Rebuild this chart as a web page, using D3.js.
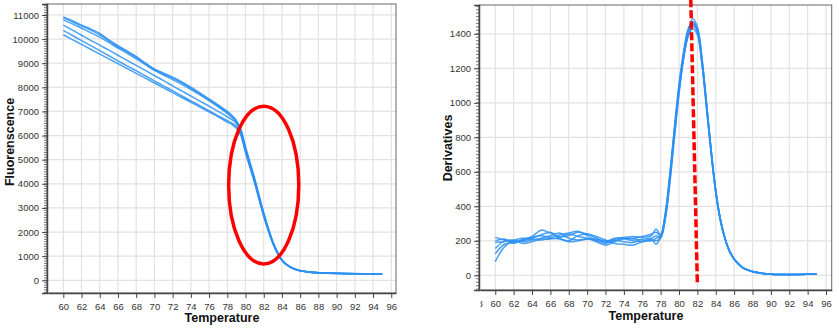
<!DOCTYPE html>
<html>
<head>
<meta charset="utf-8">
<script src="https://cdn.jsdelivr.net/npm/d3@7"></script>
<style>
  body { margin: 0; background: #fff; }
  svg { display: block; font-family: "Liberation Sans", Arial, sans-serif; }
  .tick text { fill: #333; font-size: 9.5px; }
  .title { font-weight: bold; font-size: 12.5px; fill: #111; }
</style>
</head>
<body>
<div id="container"></div>
<script>
/* CONSTANTS AND GLOBALS */
const width = 839,
  height = 329;

const lineColor = "#2b90f2";
const markColor = "#ff0000";

/* DATA */
// melt curve (left panel) - temperature grid
const meltTemps = [60, 61, 62, 63, 64, 65, 66, 67, 68, 69, 70, 71, 72, 73, 74, 75, 76, 77, 78,
  78.5, 79, 79.5, 80, 81, 82, 83, 84, 85, 86, 87, 88, 89, 90, 91, 92, 93, 94, 95];

const melt1 = [10920, 10760, 10580, 10420, 10240, 9970, 9730, 9510, 9280, 9010, 8760, 8590, 8420, 8230, 8010, 7770, 7520, 7270, 7000,
  6840, 6620, 6250, 5540, 4230, 2800, 1610, 850, 545, 402, 346, 316, 301, 291, 283, 277, 271, 266, 259];
const melt2 = [10880, 10720, 10540, 10370, 10180, 9930, 9690, 9470, 9240, 8980, 8720, 8550, 8380, 8190, 7970, 7730, 7480, 7230, 6960,
  6800, 6600, 6220, 5500, 4190, 2770, 1590, 838, 538, 399, 344, 314, 299, 289, 281, 275, 269, 264, 257];
const melt3 = [10800, 10630, 10450, 10270, 10080, 9860, 9630, 9410, 9180, 8940, 8700, 8510, 8320, 8120, 7910, 7690, 7450, 7190, 6920,
  6760, 6560, 6170, 5450, 4150, 2740, 1575, 832, 534, 397, 342, 312, 297, 287, 279, 273, 267, 262, 255];
const melt4 = [10580, 10370, 10160, 9950, 9750, 9540, 9330, 9120, 8910, 8700, 8490, 8280, 8060, 7850, 7640, 7430, 7220, 7000, 6780,
  6660, 6500, 6120, 5400, 4110, 2710, 1560, 826, 531, 395, 340, 310, 295, 285, 277, 271, 265, 260, 253];
const melt5 = [10360, 10150, 9940, 9730, 9520, 9310, 9100, 8890, 8690, 8480, 8270, 8060, 7860, 7650, 7440, 7240, 7030, 6820, 6620,
  6520, 6380, 6060, 5350, 4070, 2680, 1545, 820, 528, 393, 338, 308, 293, 283, 275, 269, 263, 258, 251];
const melt6 = [10180, 9980, 9780, 9580, 9380, 9180, 8980, 8780, 8580, 8380, 8180, 7980, 7780, 7580, 7380, 7180, 6980, 6780, 6560,
  6460, 6300, 5990, 5300, 4030, 2650, 1530, 815, 525, 391, 336, 306, 291, 281, 273, 267, 261, 256, 249];

// derivative curve (right panel) - temperature grid
const derivTemps = [60, 61, 62, 63, 64, 65, 66, 67, 68, 69, 70, 71, 72, 73, 74, 75, 76, 77,
  77.5, 78, 78.5, 79, 79.5, 80, 80.5, 81, 81.5, 82, 82.5, 83, 83.5, 84, 84.5, 85, 85.5, 86, 86.5, 87,
  88, 89, 90, 91, 92, 93, 94, 95];

const deriv1 = [220, 205, 195, 205, 225, 262, 245, 225, 230, 250, 240, 215, 190, 200, 215, 210, 205, 200,
  215, 225, 340, 560, 830, 1080, 1280, 1420, 1488, 1440, 1250, 990, 720, 490, 325, 215, 140, 95, 65, 42,
  22, 12, 7, 5, 5, 5, 6, 8];
const deriv2 = [200, 210, 185, 210, 220, 230, 220, 235, 245, 255, 230, 200, 185, 210, 220, 225, 220, 230,
  268, 235, 360, 590, 860, 1110, 1300, 1430, 1470, 1410, 1220, 960, 700, 475, 315, 210, 138, 93, 63, 41,
  21, 11, 6, 5, 4, 5, 6, 7];
const deriv3 = [190, 195, 200, 195, 205, 215, 230, 245, 215, 205, 210, 205, 195, 215, 215, 215, 225, 240,
  250, 230, 350, 575, 840, 1090, 1280, 1410, 1458, 1420, 1240, 985, 715, 485, 322, 213, 140, 94, 64, 42,
  22, 12, 7, 5, 5, 5, 6, 7];
const deriv4 = [155, 200, 205, 215, 210, 205, 215, 210, 195, 200, 210, 210, 200, 205, 195, 190, 210, 215,
  230, 220, 330, 545, 810, 1060, 1255, 1390, 1445, 1415, 1245, 990, 722, 492, 328, 216, 141, 95, 65, 43,
  22, 12, 7, 5, 5, 5, 6, 8];
const deriv5 = [125, 180, 190, 200, 215, 235, 250, 215, 200, 230, 240, 225, 205, 185, 180, 175, 195, 210,
  180, 225, 345, 570, 835, 1080, 1265, 1385, 1430, 1395, 1225, 975, 710, 482, 320, 212, 139, 94, 64, 42,
  22, 12, 7, 5, 5, 5, 6, 7];
const deriv6 = [80, 165, 200, 185, 195, 210, 210, 220, 240, 225, 215, 195, 175, 195, 210, 200, 195, 205,
  200, 215, 320, 530, 795, 1050, 1260, 1405, 1465, 1435, 1260, 1000, 728, 495, 330, 218, 142, 96, 66, 43,
  22, 12, 7, 5, 5, 5, 6, 8];

// tick labels
const meltXTicks = [60, 62, 64, 66, 68, 70, 72, 74, 76, 78, 80, 82, 84, 86, 88, 90, 92, 94, 96];
const derivXTicks = [58, 60, 62, 64, 66, 68, 70, 72, 74, 76, 78, 80, 82, 84, 86, 88, 90, 92, 94, 96];
const meltYTicks = [0, 1000, 2000, 3000, 4000, 5000, 6000, 7000, 8000, 9000, 10000, 11000];
const derivYTicks = [0, 200, 400, 600, 800, 1000, 1200, 1400];

// annotations: melt region ellipse (center temp, center value, half widths) and Tm line
const ellipseCenter = [82, 3950];
const ellipseRadius = [3.85, 3270];
const tmLine = [[81.28, 1600], [82.0, -55]];

/* SVG */
const svg = d3.select("#container")
  .append("svg")
  .attr("width", width)
  .attr("height", height);

// draws one panel, returns its scales
function drawPanel(opt) {
  const xScale = d3.scaleLinear().domain(opt.xDomain).range([opt.left, opt.right]);
  const yScale = d3.scaleLinear().domain(opt.yDomain).range([opt.bottom, opt.top]);
  const g = svg.append("g");

  // grid
  g.append("g")
    .selectAll("line.vg")
    .data(opt.xTicks.filter(d => xScale(d) > opt.left))
    .join("line")
    .attr("x1", d => xScale(d)).attr("x2", d => xScale(d))
    .attr("y1", opt.top).attr("y2", opt.bottom)
    .attr("stroke", "#e2e2e2").attr("stroke-width", 1.2);
  g.append("g")
    .selectAll("line.hg")
    .data(opt.yTicks)
    .join("line")
    .attr("x1", opt.left).attr("x2", opt.right)
    .attr("y1", d => yScale(d)).attr("y2", d => yScale(d))
    .attr("stroke", "#e2e2e2").attr("stroke-width", 1.2);

  // clip for curves
  const clipId = "clip" + opt.id;
  svg.append("clipPath").attr("id", clipId)
    .append("rect")
    .attr("x", opt.left).attr("y", opt.top)
    .attr("width", opt.right - opt.left).attr("height", opt.bottom - opt.top);

  const line = d3.line()
    .x((d, i) => xScale(opt.temps[i]))
    .y(d => yScale(d))
    .curve(opt.curve);

  g.append("g")
    .attr("clip-path", `url(#${clipId})`)
    .selectAll("path")
    .data(opt.series)
    .join("path")
    .attr("d", d => line(d))
    .attr("fill", "none")
    .attr("stroke", lineColor)
    .attr("stroke-width", 1.5)
    .attr("stroke-opacity", 0.85);

  // frame
  g.append("rect")
    .attr("x", opt.left).attr("y", opt.top)
    .attr("width", opt.right - opt.left).attr("height", opt.bottom - opt.top)
    .attr("fill", "none").attr("stroke", "#666").attr("stroke-width", 1);

  // y minor ticks
  const minor = d3.range(Math.ceil(opt.yDomain[0] / opt.yMinor) * opt.yMinor, opt.yDomain[1], opt.yMinor);
  g.append("g")
    .selectAll("line")
    .data(minor)
    .join("line")
    .attr("x1", opt.left - 3).attr("x2", opt.left)
    .attr("y1", d => yScale(d)).attr("y2", d => yScale(d))
    .attr("stroke", "#555").attr("stroke-width", 0.8);

  // y axis
  const yAxis = g.append("g")
    .attr("transform", `translate(${opt.left},0)`)
    .call(d3.axisLeft(yScale).tickValues(opt.yTicks).tickSize(5).tickPadding(3).tickFormat(d3.format("d")));
  yAxis.select(".domain").attr("stroke", "#444").attr("stroke-width", 1.5);
  yAxis.selectAll(".tick line").attr("stroke", "#444");

  // x axis (labels cut at the panel's left edge)
  svg.append("clipPath").attr("id", clipId + "x")
    .append("rect")
    .attr("x", opt.left + 1.5).attr("y", -2)
    .attr("width", width - opt.left).attr("height", 30);
  const xAxis = g.append("g")
    .attr("transform", `translate(0,${opt.bottom})`)
    .attr("clip-path", `url(#${clipId}x)`)
    .call(d3.axisBottom(xScale).tickValues(opt.xTicks).tickSize(5).tickPadding(5).tickSizeOuter(0));
  xAxis.select(".domain").attr("stroke", "#444").attr("stroke-width", 1.5);
  xAxis.selectAll(".tick line").attr("stroke", "#444");

  // axis titles
  svg.append("text")
    .attr("class", "title")
    .attr("x", opt.xTitlePos[0]).attr("y", opt.xTitlePos[1])
    .attr("text-anchor", "middle")
    .text("Temperature");
  svg.append("text")
    .attr("class", "title")
    .attr("transform", `translate(${opt.yTitlePos[0]},${opt.yTitlePos[1]}) rotate(-90)`)
    .attr("text-anchor", "middle")
    .text(opt.yLabel);

  return { xScale, yScale };
}

/* LEFT PANEL */
const left = drawPanel({
  id: "L",
  left: 47, right: 396, top: 4, bottom: 293,
  xDomain: [58.21, 96.52], yDomain: [-527, 11455],
  xTicks: meltXTicks, yTicks: meltYTicks, yMinor: 100,
  temps: meltTemps,
  series: [melt6, melt5, melt4, melt3, melt2, melt1],
  curve: d3.curveMonotoneX,
  yLabel: "Fluorenscence",
  xTitlePos: [222, 322], yTitlePos: [14, 142]
});

// red ellipse around the melting region
svg.append("ellipse")
  .attr("cx", left.xScale(ellipseCenter[0]))
  .attr("cy", left.yScale(ellipseCenter[1]))
  .attr("rx", left.xScale(ellipseCenter[0] + ellipseRadius[0]) - left.xScale(ellipseCenter[0]))
  .attr("ry", left.yScale(ellipseCenter[1] - ellipseRadius[1]) - left.yScale(ellipseCenter[1]))
  .attr("fill", "none")
  .attr("stroke", markColor)
  .attr("stroke-width", 3.5);

/* RIGHT PANEL */
const right = drawPanel({
  id: "R",
  left: 479, right: 831.7, top: 5, bottom: 290,
  xDomain: [58.23, 96.62], yDomain: [-85, 1567],
  xTicks: derivXTicks, yTicks: derivYTicks, yMinor: 20,
  temps: derivTemps,
  series: [deriv6, deriv5, deriv4, deriv3, deriv2, deriv1],
  curve: d3.curveCatmullRom,
  yLabel: "Derivatives",
  xTitlePos: [646, 320], yTitlePos: [452, 148]
});

// dashed Tm line
svg.append("line")
  .attr("x1", right.xScale(tmLine[0][0])).attr("y1", right.yScale(tmLine[0][1]))
  .attr("x2", right.xScale(tmLine[1][0])).attr("y2", right.yScale(tmLine[1][1]))
  .attr("stroke", markColor)
  .attr("stroke-width", 3.5)
  .attr("stroke-dasharray", "8,3");
</script>
</body>
</html>
